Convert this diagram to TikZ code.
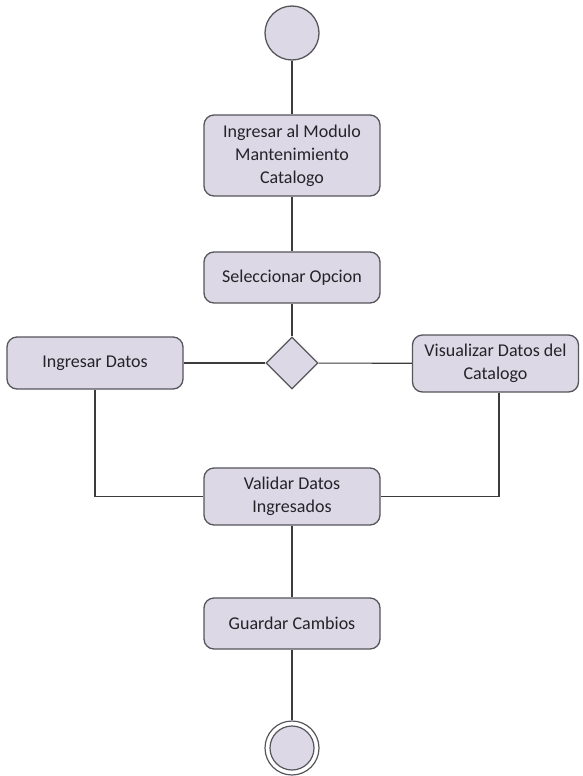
\documentclass[tikz,border=0pt]{standalone}
\usepackage{fontspec}
\setmainfont{Carlito}
\usetikzlibrary{shapes.geometric}
\definecolor{actfill}{RGB}{220,216,230}
\definecolor{actdraw}{RGB}{85,85,90}
\definecolor{linec}{RGB}{60,60,60}
\definecolor{txt}{RGB}{35,35,40}
\begin{document}
\begin{tikzpicture}[x=1pt,y=-1pt,
  act/.style={draw=actdraw, fill=actfill, line width=1.3pt, rounded corners=10pt,
    align=center, text=txt, inner sep=0pt,
    font=\fontsize{18}{23}\selectfont},
  startnode/.style={circle, draw=actdraw, fill=actfill, line width=1.3pt, minimum size=54pt, inner sep=0pt},
  decision/.style={diamond, draw=actdraw, fill=actfill, line width=1.3pt, minimum width=52pt, minimum height=52pt, inner sep=0pt},
  flow/.style={draw=linec, line width=1.1pt}]
\useasboundingbox (0,0) rectangle (583,776);
\node[startnode] (start) at (292,33) {};
\node[act, minimum width=176pt, minimum height=81pt] (b1) at (292,155.5) {Ingresar al Modulo\\Mantenimiento\\Catalogo};
\node[act, minimum width=176pt, minimum height=51pt] (b2) at (292,277.5) {Seleccionar Opcion};
\node[decision] (d) at (292,363) {};
\node[act, minimum width=176pt, minimum height=52pt] (b3) at (95,363) {Ingresar Datos};
\node[act, minimum width=166pt, minimum height=57pt] (b4) at (495.5,363.5) {Visualizar Datos del\\Catalogo};
\node[act, minimum width=176pt, minimum height=57pt] (b5) at (292,496.5) {Validar Datos\\Ingresados};
\node[act, minimum width=176pt, minimum height=51pt] (b6) at (292,623.5) {Guardar Cambios};
\node[circle, draw=actdraw, line width=1.2pt, minimum size=54pt, inner sep=0pt] (endo) at (292,748) {};
\node[circle, draw=actdraw, fill=actfill, line width=1.2pt, minimum size=44pt, inner sep=0pt] (endi) at (292,748) {};
\coordinate (b4s) at ([xshift=3.5pt]b4.south);
\draw[flow] (start) -- (b1);
\draw[flow] (b1) -- (b2);
\draw[flow] (b2) -- (d);
\draw[flow] (d) -- (b3);
\draw[flow] (d) -- (b4);
\draw[flow] (b3.south) |- (b5.west);
\draw[flow] (b4s) |- (b5.east);
\draw[flow] (b5) -- (b6);
\draw[flow] (b6) -- (endo);
\end{tikzpicture}
\end{document}
